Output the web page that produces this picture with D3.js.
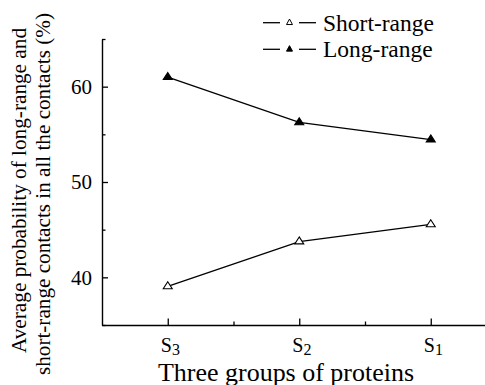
<!DOCTYPE html>
<html>
<head>
<meta charset="utf-8">
<script src="https://cdn.jsdelivr.net/npm/d3@7"></script>
<style>
  html, body { margin: 0; padding: 0; background: #fff; }
  svg { display: block; }
  svg text { font-family: "Liberation Serif", "Tinos", "Times New Roman", "DejaVu Serif", serif; }
</style>
</head>
<body>
<svg id="chart" width="485" height="385"></svg>
<script>
// ---- data ----
const categories = ["S3", "S2", "S1"];
const groupLetters = ["S", "S", "S"];
const groupSubs = ["3", "2", "1"];
const shortRange = [39.05, 43.75, 45.55];
const longRange = [61.0, 56.25, 54.45];
const yMajorTicks = [40, 50, 60];
const yMinorTicks = [35, 45, 55, 65];
const xMinorTicks = [0.5, 1.5];
const seriesNames = ["Short-range", "Long-range"];

const FONT = "'Liberation Serif', 'Tinos', 'Times New Roman', 'DejaVu Serif', serif";
const svg = d3.select("#chart");
const x = d3.scaleLinear().domain([-0.5, 2.5]).range([102, 496.5]);
const y = d3.scaleLinear().domain([35, 65]).range([325, 39]);

function tri(w, h) {
  return {
    draw(ctx) {
      ctx.moveTo(0, -h * 2 / 3);
      ctx.lineTo(w / 2, h / 3);
      ctx.lineTo(-w / 2, h / 3);
      ctx.closePath();
    }
  };
}

// ---- axes ----
const yAxis = d3.axisLeft(y).tickValues(yMajorTicks).tickSizeInner(-6).tickSizeOuter(0).tickPadding(10);
const gy = svg.append("g").attr("transform", "translate(102,0)").call(yAxis);
gy.attr("font-family", FONT);
gy.selectAll("text").attr("font-size", 21).attr("fill", "#000");
gy.selectAll("line").attr("stroke", "#000").attr("stroke-width", 1.3);
gy.select(".domain").attr("stroke", "#000").attr("stroke-width", 1.4);

const yMinor = d3.axisLeft(y).tickValues(yMinorTicks).tickSizeInner(-3.5).tickSizeOuter(0).tickFormat("");
const gym = svg.append("g").attr("transform", "translate(102,0)").call(yMinor);
gym.select(".domain").remove();
gym.selectAll("line").attr("stroke", "#000").attr("stroke-width", 1.3);

const xAxis = d3.axisBottom(x).tickValues([0, 1, 2]).tickSizeInner(-6.5).tickSizeOuter(0).tickFormat("");
const gx = svg.append("g").attr("transform", "translate(0,325)").call(xAxis);
gx.selectAll("line").attr("stroke", "#000").attr("stroke-width", 1.3);
gx.select(".domain").attr("stroke", "#000").attr("stroke-width", 1.4);

const xMinor = d3.axisBottom(x).tickValues(xMinorTicks).tickSizeInner(-3.5).tickSizeOuter(0).tickFormat("");
const gxm = svg.append("g").attr("transform", "translate(0,325)").call(xMinor);
gxm.select(".domain").remove();
gxm.selectAll("line").attr("stroke", "#000").attr("stroke-width", 1.3);

// x tick labels with subscripts
categories.forEach((c, i) => {
  const t = svg.append("text")
    .attr("x", x(i) - 7)
    .attr("y", 352)
    .attr("font-family", FONT)
    .attr("font-size", 20)
    .attr("fill", "#000");
  t.append("tspan").text(groupLetters[i]);
  t.append("tspan").attr("font-size", 16).attr("dy", 3).text(groupSubs[i]);
});

// axis titles
svg.append("text")
  .attr("x", 158).attr("y", 381)
  .attr("font-family", FONT)
  .attr("font-size", 26)
  .attr("textLength", 256)
  .attr("lengthAdjust", "spacingAndGlyphs")
  .attr("fill", "#000")
  .text("Three groups of proteins");

svg.append("text")
  .attr("transform", "translate(26,353) rotate(-90)")
  .attr("font-family", FONT)
  .attr("font-size", 21)
  .attr("textLength", 325)
  .attr("lengthAdjust", "spacingAndGlyphs")
  .attr("fill", "#000")
  .text("Average probability of long-range and");
svg.append("text")
  .attr("transform", "translate(50,375) rotate(-90)")
  .attr("font-family", FONT)
  .attr("font-size", 21)
  .attr("textLength", 362)
  .attr("lengthAdjust", "spacingAndGlyphs")
  .attr("fill", "#000")
  .text("short-range contacts in all the contacts (%)");

// ---- lines ----
const line = d3.line().x((d, i) => x(i)).y(d => y(d));
[shortRange, longRange].forEach(s => {
  svg.append("path").datum(s).attr("d", line)
    .attr("fill", "none").attr("stroke", "#000").attr("stroke-width", 1.3);
});

const bigTri = d3.symbol().type(tri(9, 7));
svg.selectAll(".ms").data(shortRange).join("path")
  .attr("class", "ms")
  .attr("transform", (d, i) => `translate(${x(i)},${y(d)})`)
  .attr("d", bigTri)
  .attr("fill", "#fff").attr("stroke", "#000").attr("stroke-width", 1.1);
svg.selectAll(".ml").data(longRange).join("path")
  .attr("class", "ml")
  .attr("transform", (d, i) => `translate(${x(i)},${y(d)})`)
  .attr("d", bigTri)
  .attr("fill", "#000").attr("stroke", "#000").attr("stroke-width", 1.1);

// ---- legend ----
const smallTri = d3.symbol().type(tri(6, 5.5));
const legY = [22.7, 49.3];
const legW = [112, 112];
seriesNames.forEach((name, i) => {
  const g = svg.append("g").attr("transform", `translate(0,${legY[i]})`);
  g.append("line").attr("x1", 263).attr("x2", 280).attr("y1", 0).attr("y2", 0)
    .attr("stroke", "#000").attr("stroke-width", 1.3);
  g.append("line").attr("x1", 299).attr("x2", 316).attr("y1", 0).attr("y2", 0)
    .attr("stroke", "#000").attr("stroke-width", 1.3);
  g.append("path").attr("transform", "translate(289.5,0)").attr("d", smallTri)
    .attr("fill", i === 0 ? "#fff" : "#000").attr("stroke", "#000").attr("stroke-width", 1);
  g.append("text").attr("x", 323).attr("y", 8)
    .attr("font-family", FONT)
    .attr("font-size", 23.5).attr("fill", "#000").text(name);
});
</script>
</body>
</html>
